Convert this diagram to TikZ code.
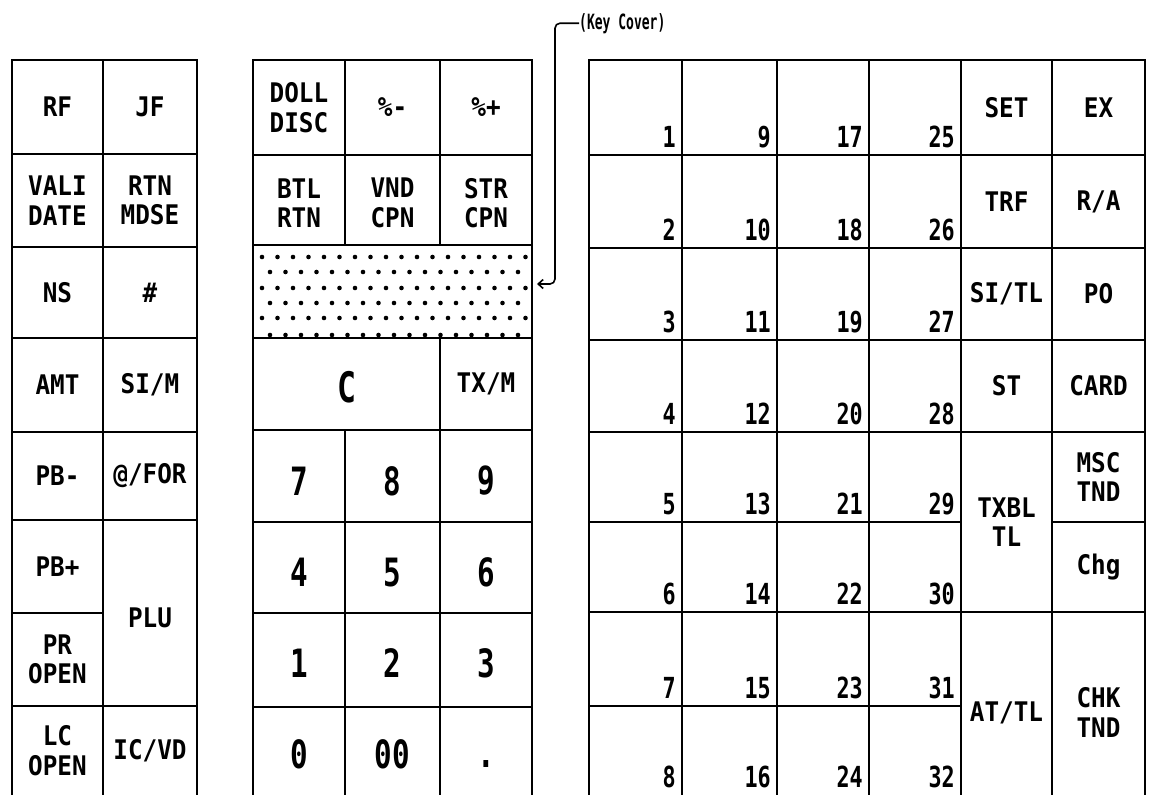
\documentclass[tikz,border=0pt]{standalone}
\usepackage{fontspec}
\usetikzlibrary{arrows.meta}
\newfontfamily\labfont{DejaVu Sans Mono}[FakeStretch=0.9]
\newfontfamily\numfont{DejaVu Sans Mono}[FakeStretch=0.75]
\newfontfamily\kcfont{DejaVu Sans Mono}[FakeStretch=0.62]
\newcommand\bigdig{\numfont\bfseries\fontsize{39}{41}\selectfont}
\newcommand\bigC{\numfont\bfseries\fontsize{42}{44}\selectfont}
% [text shift down] name x1 y1 x2 y2 text
\newcommand\kcell[7][0]{%
  \node[keybox, minimum width={(#5-#3)*1pt}, minimum height={(#6-#4)*1pt}]
    (#2) at ({(#3+#5)/2},{(#4+#6)/2}) {};
  \node[lab, yshift=-#1pt] (#2t) at (#2.center) {#7};}
\begin{document}
\begin{tikzpicture}[x=1pt,y=-1pt,
  keybox/.style={draw, line width=2.9pt, inner sep=0pt, outer sep=0pt},
  lab/.style={font=\labfont\bfseries\fontsize{27}{29.5}\selectfont, align=center, inner sep=0pt},
  num/.style={font=\numfont\bfseries\fontsize{29}{31}\selectfont, inner sep=0pt, anchor=south east},
  conn/.style={line width=1.6pt, rounded corners=5pt, -{Straight Barb[length=5pt,width=9pt]}}]
\useasboundingbox (0,0) rectangle (1149,795);
\fill[white] (0,0) rectangle (1149,795);

% ---- left block
\kcell{rf}{12}{60}{103}{154}{RF}
\kcell{jf}{103}{60}{197}{154}{JF}
\kcell{vali}{12}{154}{103}{247}{VALI\\DATE}
\kcell{rtn}{103}{154}{197}{247}{RTN\\MDSE}
\kcell{ns}{12}{247}{103}{338}{NS}
\kcell{hash}{103}{247}{197}{338}{\#}
\kcell{amt}{12}{338}{103}{432}{AMT}
\kcell{sim}{103}{338}{197}{432}{SI/M}
\kcell{pbm}{12}{432}{103}{520}{PB-}
\kcell{for}{103}{432}{197}{520}{@/FOR}
\kcell{pbp}{12}{520}{103}{613}{PB+}
\kcell[5]{plu}{103}{520}{197}{706}{PLU}
\kcell{pr}{12}{613}{103}{706}{PR\\OPEN}
\kcell[-1]{lc}{12}{706}{103}{797}{LC\\OPEN}
\kcell[-1]{icvd}{103}{706}{197}{797}{IC/VD}

% ---- middle block
\kcell{doll}{253}{60}{345}{155}{DOLL\\DISC}
\kcell{pcm}{345}{60}{440}{155}{\%-}
\kcell{pcp}{440}{60}{532}{155}{\%+}
\kcell[3]{btl}{253}{155}{345}{245}{BTL\\RTN}
\kcell[3]{vnd}{345}{155}{440}{245}{VND\\CPN}
\kcell[3]{str}{440}{155}{532}{245}{STR\\CPN}
\kcell{cover}{253}{245}{532}{338}{}
\foreach \yy in {257,288,318} {
  \foreach \k in {0,...,17} \fill ({262+15.5*\k},\yy) circle[radius=2.3pt];}
\foreach \yy in {272,303,335} {
  \foreach \k in {0,...,16} \fill ({270+15.5*\k},\yy) circle[radius=2.3pt];}
\kcell[3]{kc}{253}{338}{440}{430}{\bigC C}
\kcell{txm}{440}{338}{532}{430}{TX/M}
\kcell[5]{d7}{253}{430}{345}{522}{\bigdig 7}
\kcell[5]{d8}{345}{430}{440}{522}{\bigdig 8}
\kcell[5]{d9}{440}{430}{532}{522}{\bigdig 9}
\kcell[5]{d4}{253}{522}{345}{613}{\bigdig 4}
\kcell[5]{d5}{345}{522}{440}{613}{\bigdig 5}
\kcell[5]{d6}{440}{522}{532}{613}{\bigdig 6}
\kcell[3]{d1}{253}{613}{345}{707}{\bigdig 1}
\kcell[3]{d2}{345}{613}{440}{707}{\bigdig 2}
\kcell[3]{d3}{440}{613}{532}{707}{\bigdig 3}
\kcell[2]{d0}{253}{707}{345}{797}{\bigdig 0}
\kcell[2]{d00}{345}{707}{440}{797}{\bigdig 00}
\node[keybox, minimum width=92pt, minimum height=90pt] (dpt) at (486,752) {};
\node[lab, font=\bigdig, anchor=base] (dptt) at (486,767) {.};

% ---- numbered grid
\foreach \i/\xl/\xr in {0/589/682,1/682/777,2/777/869,3/869/961} {
  \foreach \j/\yt/\yb in {0/60/155,1/155/248,2/248/340,3/340/432,4/432/522,5/522/612,6/612/706,7/706/797} {
    \pgfmathtruncatemacro\n{8*\i+\j+1}
    \node[keybox, minimum width={(\xr-\xl)*1pt}, minimum height={(\yb-\yt)*1pt}]
      (c\n) at ({(\xl+\xr)/2},{(\yt+\yb)/2}) {};
  }}
\foreach \i/\xr in {0/682,1/777,2/869,3/961} {
  \foreach \j/\yb in {0/155,1/248,2/340,3/432,4/522,5/612,6/706,7/795} {
    \pgfmathtruncatemacro\n{8*\i+\j+1}
    \node[num] (n\n) at ({\xr-6},{\yb-7}) {\n};
  }}

% ---- function keys
\kcell{set}{961}{60}{1052}{155}{SET}
\kcell{ex}{1052}{60}{1145}{155}{EX}
\kcell{trf}{961}{155}{1052}{248}{TRF}
\kcell{ra}{1052}{155}{1145}{248}{R/A}
\kcell{sitl}{961}{248}{1052}{340}{SI/TL}
\kcell{po}{1052}{248}{1145}{340}{PO}
\kcell{st}{961}{340}{1052}{432}{ST}
\kcell{card}{1052}{340}{1145}{432}{CARD}
\kcell{txbl}{961}{432}{1052}{612}{TXBL\\TL}
\kcell{msc}{1052}{432}{1145}{522}{MSC\\TND}
\kcell{chg}{1052}{522}{1145}{612}{Chg}
\kcell[8]{attl}{961}{612}{1052}{797}{AT/TL}
\kcell[8]{chk}{1052}{612}{1145}{797}{CHK\\TND}

% ---- key cover label
\node[font=\kcfont\bfseries\fontsize{21}{23}\selectfont, inner sep=0pt, anchor=base west] (keycov) at (579,29) {(Key Cover)};
\coordinate (bend) at (555,284);
\coordinate (tip) at (537,284);
\draw[conn] (keycov.west) -| (bend) -- (tip);
\end{tikzpicture}
\end{document}
